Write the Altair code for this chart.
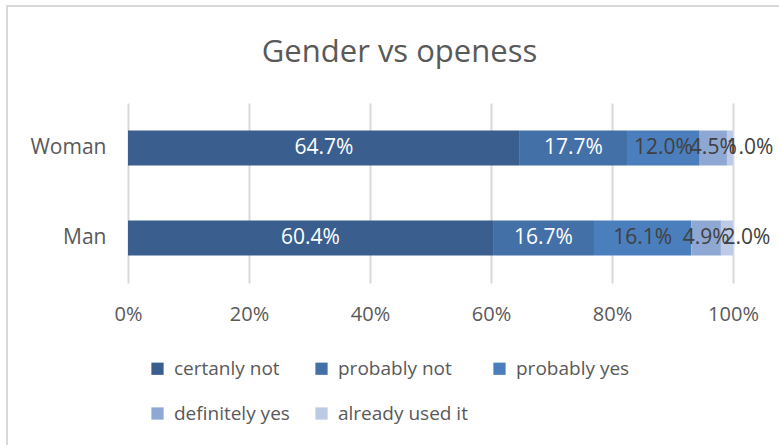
import altair as alt
import pandas as pd

genders = ["Woman", "Man"]
categories = ["certanly not", "probably not", "probably yes", "definitely yes", "already used it"]
woman_values = [64.7, 17.7, 12.0, 4.5, 1.0]
man_values = [60.4, 16.7, 16.1, 4.9, 2.0]
colors = ["#3A5F8F", "#4470A8", "#4B7EBD", "#8FA8D3", "#BCCAE5"]
label_colors = ["white", "white", "#404040", "#404040", "#404040"]

rows = []
for g, vals in zip(genders, [woman_values, man_values]):
    for i, (c, v) in enumerate(zip(categories, vals)):
        rows.append({"gender": g, "category": c, "value": v, "idx": i,
                     "label": f"{v:.1f}%", "lcolor": label_colors[i]})
df = pd.DataFrame(rows)

FONT = "Open Sans"
TXT = "#595959"

base = alt.Chart(df).transform_joinaggregate(
    total="sum(value)", groupby=["gender"]
).transform_window(
    cum="sum(value)", groupby=["gender"], sort=[alt.SortField("idx")], frame=[None, 0]
).transform_calculate(
    end="datum.cum / datum.total",
    start="(datum.cum - datum.value) / datum.total",
    mid="(datum.cum - datum.value / 2) / datum.total",
)

y_enc = alt.Y("gender:N", sort=genders, title=None,
              axis=alt.Axis(labelFontSize=21, labelColor=TXT, labelFont=FONT,
                            ticks=False, domain=False, labelPadding=22))

bars = base.mark_bar(size=35).encode(
    x=alt.X("start:Q", scale=alt.Scale(domain=[0, 1], nice=False),
            axis=alt.Axis(format=".0%", values=[0, 0.2, 0.4, 0.6, 0.8, 1.0],
                          labelFontSize=20, labelColor=TXT, labelFont=FONT,
                          ticks=False, domain=False, grid=True, labelFlush=False,
                          gridColor="#D9D9D9", gridWidth=2, labelPadding=21,
                          title=None)),
    x2="end:Q",
    y=y_enc,
    color=alt.Color("category:N", scale=alt.Scale(domain=categories, range=colors),
                    sort=categories,
                    legend=alt.Legend(title=None, orient="none", legendX=20, legendY=256,
                                      direction="horizontal",
                                      columns=3, symbolType="square", symbolSize=150,
                                      symbolStrokeWidth=0, labelFontSize=19,
                                      labelColor=TXT, labelFont=FONT, columnPadding=22,
                                      rowPadding=25, labelOffset=7)),
    order=alt.Order("idx:Q"),
)

text_enc = dict(
    x=alt.X("mid:Q"),
    y=alt.Y("gender:N", sort=genders),
    text="label:N",
    color=alt.Color("lcolor:N", scale=None, legend=None),
)
texts = base.mark_text(fontSize=21, font=FONT).encode(**text_enc).transform_filter("datum.idx < 4")
texts_last = base.mark_text(fontSize=21, font=FONT, dx=20).encode(**text_enc).transform_filter("datum.idx == 4")

# light chart frame (decoration only)
frame = alt.Chart(pd.DataFrame({"k": [0]})).mark_rect(
    fill=None, stroke="#D9D9D9", strokeWidth=2
).encode(
    x=alt.value(-121), x2=alt.value(700), y=alt.value(-97), y2=alt.value(400)
)

chart = alt.layer(frame, bars, texts, texts_last).properties(
    width=605, height=180,
    title=alt.TitleParams("Gender vs openess", fontSize=31, font=FONT, fontWeight="normal",
                          color=TXT, anchor="middle", dx=-31, offset=-64),
    padding={"left": 128, "top": 103, "right": 46, "bottom": 162},
    autosize=alt.AutoSizeParams(type="none"),
    background="white",
).configure_view(stroke=None)

chart.save("out.html", embed_options={"renderer": "svg", "actions": False})
